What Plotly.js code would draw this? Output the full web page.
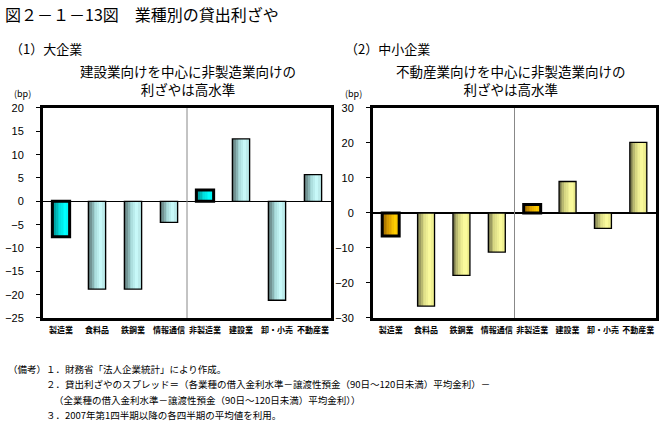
<!DOCTYPE html>
<html><head><meta charset="utf-8">
<script src="https://cdn.plot.ly/plotly-3.0.1.min.js"></script>
<style>body{margin:0;background:#fff}#chart{width:664px;height:427px}</style>
</head><body><div id="chart"></div>
<script>
// ---- data ----
const categories = ["製造業", "食料品", "鉄鋼業", "情報通信", "非製造業", "建設業", "卸・小売", "不動産業"];
const largeValues = [-7.6, -18.8, -18.8, -4.5, 2.4, 13.4, -21.2, 5.7];
const smeValues = [-6.6, -26.6, -17.8, -11.2, 2.4, 9.0, -4.4, 20.2];
const highlighted = [true, false, false, false, true, false, false, false];
const largeTicks = [20, 15, 10, 5, 0, -5, -10, -15, -20, -25];
const smeTicks = [30, 20, 10, 0, -10, -20, -30];

// ---- styling ----
const FONT = "'Noto Sans CJK JP', sans-serif";
const N = 10, W = 0.48;
function lerp(a, b, t) { return a.map((v, i) => Math.round(v + (b[i] - v) * t)); }
function grad(stops, t) {
  for (let i = 0; i < stops.length - 1; i++) {
    if (t <= stops[i + 1][0]) {
      const tt = (t - stops[i][0]) / (stops[i + 1][0] - stops[i][0]);
      const c = lerp(stops[i][1], stops[i + 1][1], tt);
      return `rgb(${c[0]},${c[1]},${c[2]})`;
    }
  }
  const c = stops[stops.length - 1][1];
  return `rgb(${c[0]},${c[1]},${c[2]})`;
}
const cyanNormal = [[0, [80, 100, 100]], [0.35, [160, 210, 210]], [0.7, [205, 255, 255]], [1, [170, 215, 215]]];
const cyanHi = [[0, [0, 130, 130]], [0.4, [0, 220, 220]], [0.75, [0, 255, 255]], [1, [0, 235, 235]]];
const yelNormal = [[0, [110, 110, 70]], [0.35, [215, 215, 130]], [0.7, [255, 255, 160]], [1, [225, 225, 130]]];
const yelHi = [[0, [150, 100, 0]], [0.4, [220, 160, 0]], [0.75, [255, 205, 0]], [1, [240, 190, 0]]];

function barTraces(vals, xa, ya, normal, hi) {
  const traces = [];
  for (let k = 0; k < N; k++) {
    const t = (k + 0.5) / N;
    traces.push({
      type: "bar", x: categories, y: vals, xaxis: xa, yaxis: ya,
      width: W / N, offset: -W / 2 + k * W / N,
      marker: { color: highlighted.map(h => grad(h ? hi : normal, t)), line: { width: 0 } },
      hoverinfo: "skip", showlegend: false
    });
  }
  traces.push({
    type: "bar", x: categories, y: vals, xaxis: xa, yaxis: ya,
    width: W, offset: -W / 2,
    marker: { color: "rgba(0,0,0,0)", line: { color: "#000", width: highlighted.map(h => h ? 3 : 1.3) } },
    showlegend: false
  });
  return traces;
}

const data = [
  ...barTraces(largeValues, "x", "y", cyanNormal, cyanHi),
  ...barTraces(smeValues, "x2", "y2", yelNormal, yelHi)
];

const ydom = [0.2553, 0.7471];
const xAxisBase = {
  type: "category", showgrid: false, zeroline: false, showline: true, mirror: true,
  linecolor: "#000", linewidth: 3, ticks: "", tickangle: 0, ticklabelstandoff: 2,
  tickfont: { family: FONT, size: 8, color: "#000", weight: "bold" }, fixedrange: true
};
const yAxisBase = {
  showgrid: false, zeroline: true, zerolinecolor: "#000", zerolinewidth: 1.2,
  showline: true, mirror: true, linecolor: "#000", linewidth: 3,
  ticks: "outside", ticklen: 4, tickcolor: "#000", tickwidth: 1, ticklabelstandoff: 10,
  tickfont: { family: "'Liberation Sans', sans-serif", size: 11, color: "#000" }, fixedrange: true
};

function txt(x, y, text, size, anchor) {
  return { xref: "paper", yref: "paper", x: x / 664, y: 1 - y / 427, text: text, showarrow: false,
    xanchor: anchor || "left", yanchor: "middle", align: "center",
    font: { family: FONT, size: size, color: "#000" } };
}

const layout = {
  width: 664, height: 427, margin: { l: 0, r: 0, t: 0, b: 0 },
  paper_bgcolor: "#fff", plot_bgcolor: "#fff", barmode: "overlay", bargap: 0, showlegend: false,
  xaxis: Object.assign({}, xAxisBase, { domain: [43 / 664, 331 / 664], anchor: "y" }),
  yaxis: Object.assign({}, yAxisBase, { domain: ydom, anchor: "x", range: [-25, 20], tickvals: largeTicks }),
  xaxis2: Object.assign({}, xAxisBase, { domain: [373 / 664, 656 / 664], anchor: "y2" }),
  yaxis2: Object.assign({}, yAxisBase, { domain: ydom, anchor: "x2", range: [-30, 30], tickvals: smeTicks }),
  shapes: [
    { type: "line", xref: "x", yref: "y domain", x0: 3.5, x1: 3.5, y0: 0, y1: 1, line: { color: "#888", width: 1 } },
    { type: "line", xref: "x2", yref: "y2 domain", x0: 3.5, x1: 3.5, y0: 0, y1: 1, line: { color: "#888", width: 1 } }
  ],
  annotations: [
    txt(3, 14, "図２－１－13図　業種別の貸出利ざや", 16),
    txt(8, 48, "（1）大企業", 13),
    txt(188, 80, "建設業向けを中心に非製造業向けの<br>利ざやは高水準", 13.5, "center"),
    txt(12, 93, "(bp)", 9),
    txt(343, 48, "（2）中小企業", 13),
    txt(511, 80, "不動産業向けを中心に非製造業向けの<br>利ざやは高水準", 13.5, "center"),
    txt(343, 93, "(bp)", 9),
    txt(6, 369, "（備考）１．財務省「法人企業統計」により作成。", 9.5),
    txt(44, 384, "２．貸出利ざやのスプレッド＝（各業種の借入金利水準－譲渡性預金（90日～120日未満）平均金利）－", 9.5),
    txt(52, 400, "（全業種の借入金利水準－譲渡性預金（90日～120日未満）平均金利））", 9.5),
    txt(44, 415, "３．2007年第1四半期以降の各四半期の平均値を利用。", 9.5)
  ]
};

Plotly.newPlot("chart", data, layout, { staticPlot: true, displayModeBar: false });
</script>
</body></html>
